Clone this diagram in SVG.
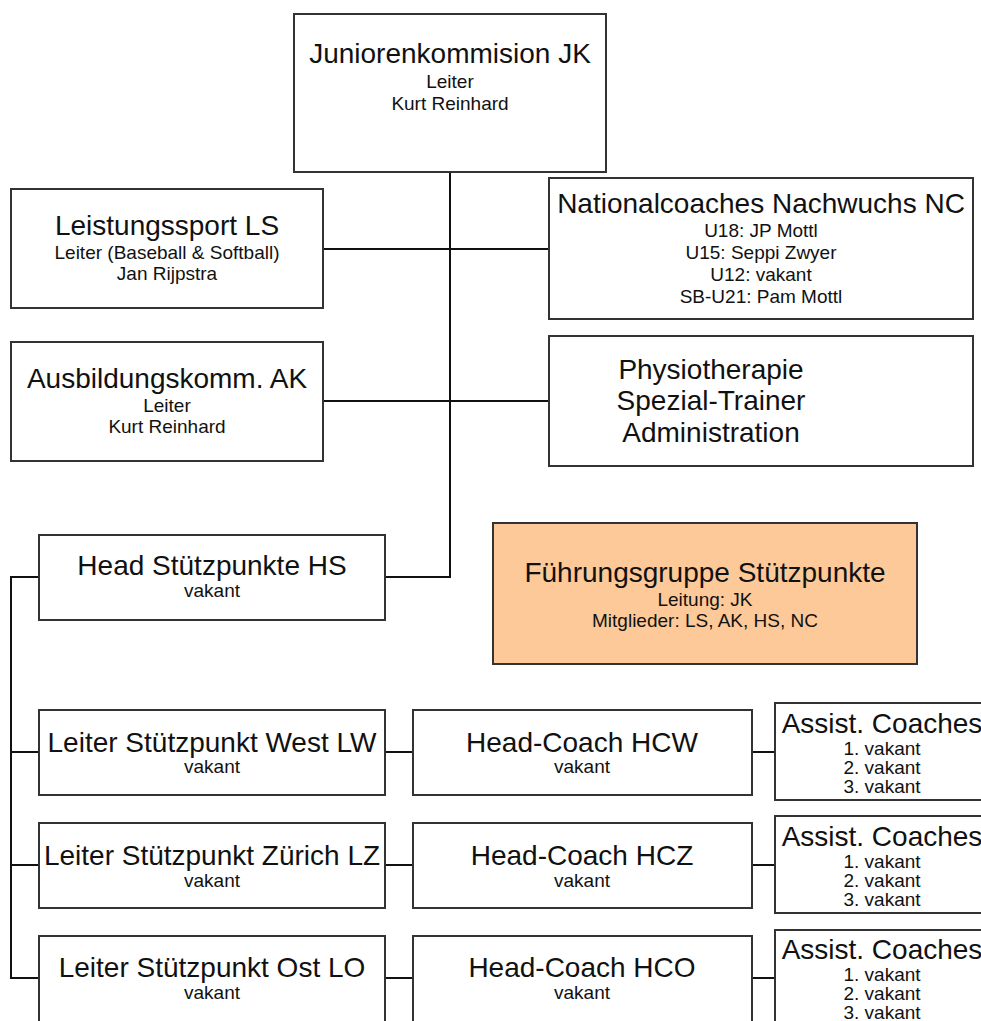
<svg xmlns="http://www.w3.org/2000/svg" width="981" height="1021" viewBox="0 0 981 1021">
<style>
.box{fill:#fff;stroke:#333;stroke-width:2}
.org{fill:#FDC998;stroke:#333;stroke-width:2}
.t{font-family:"Liberation Sans",Arial,sans-serif;font-size:28px;fill:#111;text-anchor:middle}
.s{font-family:"Liberation Sans",Arial,sans-serif;font-size:19px;fill:#111;text-anchor:middle}
.c{fill:none;stroke:#111;stroke-width:2}
</style>
<rect width="981" height="1021" fill="#fff"/>
<g id="connectors">
<path class="c" d="M450,172 V577 H385"/>
<path class="c" d="M323,249 H549"/>
<path class="c" d="M323,401 H549"/>
<path class="c" d="M39,577 H11 V978 H39"/>
<path class="c" d="M11,752 H39"/>
<path class="c" d="M11,865 H39"/>
<path class="c" d="M385,752 H413 M752,752 H775"/>
<path class="c" d="M385,865 H413 M752,865 H775"/>
<path class="c" d="M385,978 H413 M752,978 H775"/>
</g>
<g id="JK">
<rect class="box" x="294" y="14" width="312" height="158"/>
<text class="t" x="450" y="63">Juniorenkommision JK</text>
<text class="s" x="450" y="88">Leiter</text>
<text class="s" x="450" y="110">Kurt Reinhard</text>
</g>
<g id="LS">
<rect class="box" x="11" y="189" width="312" height="119"/>
<text class="t" x="167" y="235">Leistungssport LS</text>
<text class="s" x="167" y="259">Leiter (Baseball &amp; Softball)</text>
<text class="s" x="167" y="280">Jan Rijpstra</text>
</g>
<g id="NC">
<rect class="box" x="549" y="178" width="424" height="141"/>
<text class="t" x="761" y="213">Nationalcoaches Nachwuchs NC</text>
<text class="s" x="761" y="237">U18: JP Mottl</text>
<text class="s" x="761" y="259">U15: Seppi Zwyer</text>
<text class="s" x="761" y="281">U12: vakant</text>
<text class="s" x="761" y="303">SB-U21: Pam Mottl</text>
</g>
<g id="AK">
<rect class="box" x="11" y="342" width="312" height="119"/>
<text class="t" x="167" y="388">Ausbildungskomm. AK</text>
<text class="s" x="167" y="412">Leiter</text>
<text class="s" x="167" y="433">Kurt Reinhard</text>
</g>
<g id="Physio">
<rect class="box" x="549" y="336" width="424" height="130"/>
<text class="t" x="711" y="379">Physiotherapie</text>
<text class="t" x="711" y="410">Spezial-Trainer</text>
<text class="t" x="711" y="442">Administration</text>
</g>
<g id="HS">
<rect class="box" x="39" y="535" width="346" height="85"/>
<text class="t" x="212" y="575">Head Stützpunkte HS</text>
<text class="s" x="212" y="597">vakant</text>
</g>
<g id="FG">
<rect class="org" x="493" y="523" width="424" height="141"/>
<text class="t" x="705" y="582">Führungsgruppe Stützpunkte</text>
<text class="s" x="705" y="606">Leitung: JK</text>
<text class="s" x="705" y="627">Mitglieder: LS, AK, HS, NC</text>
</g>
<g id="LW">
<rect class="box" x="39" y="710" width="346" height="85"/>
<text class="t" x="212" y="752">Leiter Stützpunkt West LW</text>
<text class="s" x="212" y="773">vakant</text>
</g>
<g id="HCW">
<rect class="box" x="413" y="710" width="339" height="85"/>
<text class="t" x="582" y="752">Head-Coach HCW</text>
<text class="s" x="582" y="773">vakant</text>
</g>
<g id="ACW">
<rect class="box" x="775" y="703" width="216" height="97"/>
<text class="t" x="882" y="733">Assist. Coaches</text>
<text class="s" x="882" y="755">1. vakant</text>
<text class="s" x="882" y="774">2. vakant</text>
<text class="s" x="882" y="793">3. vakant</text>
</g>
<g id="LZ">
<rect class="box" x="39" y="823" width="346" height="85"/>
<text class="t" x="212" y="865">Leiter Stützpunkt Zürich LZ</text>
<text class="s" x="212" y="887">vakant</text>
</g>
<g id="HCZ">
<rect class="box" x="413" y="823" width="339" height="85"/>
<text class="t" x="582" y="865">Head-Coach HCZ</text>
<text class="s" x="582" y="887">vakant</text>
</g>
<g id="ACZ">
<rect class="box" x="775" y="816" width="216" height="97"/>
<text class="t" x="882" y="846">Assist. Coaches</text>
<text class="s" x="882" y="868">1. vakant</text>
<text class="s" x="882" y="887">2. vakant</text>
<text class="s" x="882" y="906">3. vakant</text>
</g>
<g id="LO">
<rect class="box" x="39" y="936" width="346" height="95"/>
<text class="t" x="212" y="977">Leiter Stützpunkt Ost LO</text>
<text class="s" x="212" y="999">vakant</text>
</g>
<g id="HCO">
<rect class="box" x="413" y="936" width="339" height="95"/>
<text class="t" x="582" y="977">Head-Coach HCO</text>
<text class="s" x="582" y="999">vakant</text>
</g>
<g id="ACO">
<rect class="box" x="775" y="930" width="216" height="101"/>
<text class="t" x="882" y="959">Assist. Coaches</text>
<text class="s" x="882" y="981">1. vakant</text>
<text class="s" x="882" y="1000">2. vakant</text>
<text class="s" x="882" y="1019">3. vakant</text>
</g>
</svg>
